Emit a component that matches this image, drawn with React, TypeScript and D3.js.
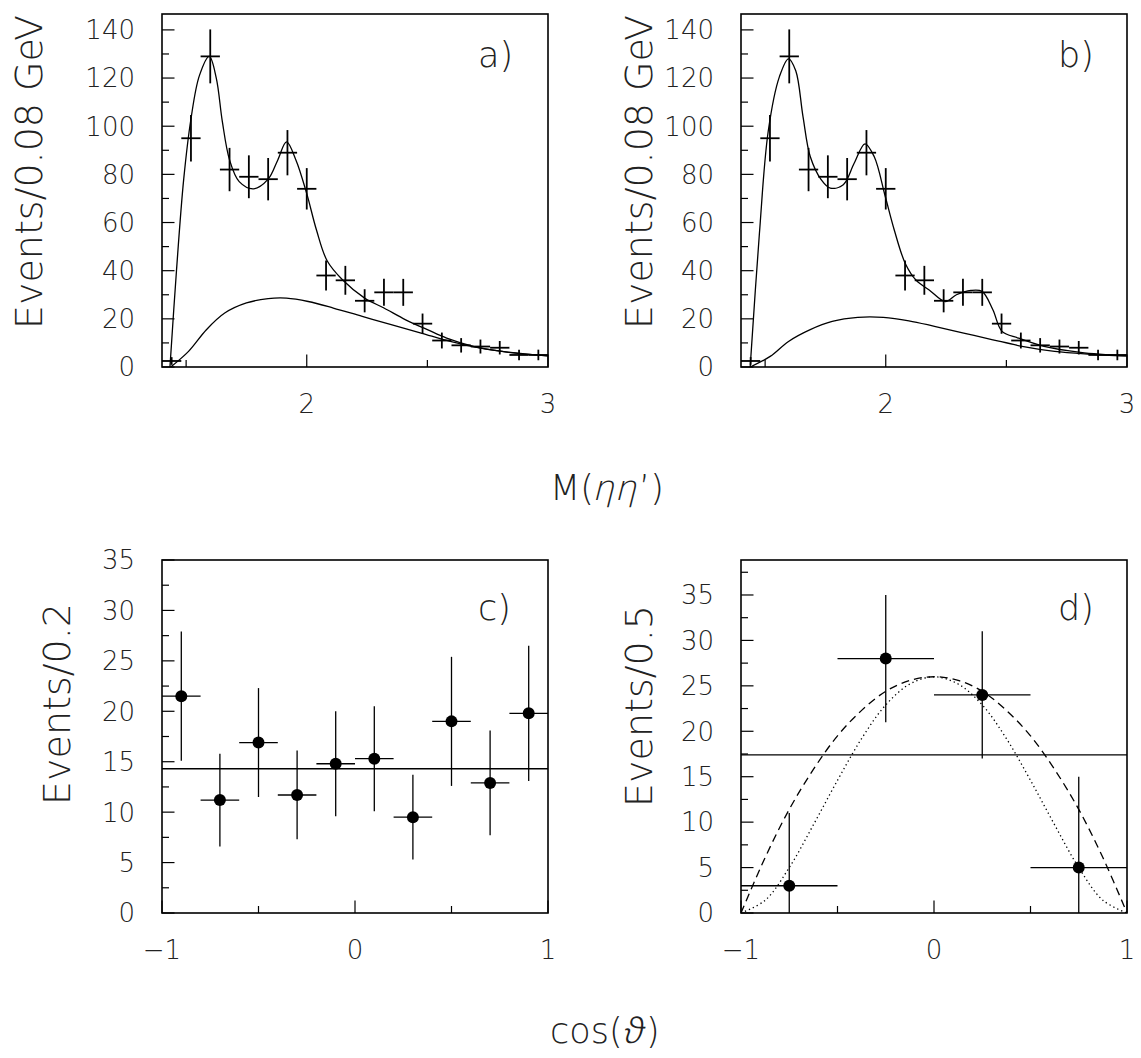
import React from "react";
import * as d3 from "d3";

type Pt = [number, number];

const W = 1141;
const H = 1058;
const FONT = "'DejaVu Sans', sans-serif";

// M(eta eta') spectrum, 0.08 GeV bins (same data in a and b)
const massBins = [1.44, 1.52, 1.6, 1.68, 1.76, 1.84, 1.92, 2.0, 2.08, 2.16, 2.24, 2.32, 2.4, 2.48, 2.56, 2.64, 2.72, 2.8, 2.88, 2.96];
const massCounts = [2.5, 95, 129, 82, 79, 78, 89, 74, 38, 36, 27.5, 31, 31, 18, 11, 9, 8.5, 8, 5, 5];
const massErrors = [1.6, 9.7, 11.2, 9, 8.9, 8.8, 9.4, 8.6, 6.2, 6, 4.8, 5.6, 5.6, 4.2, 3.3, 3, 2.9, 2.8, 2.2, 2.2];

// fit curves
const fitTotalA: Pt[] = [
  [1.433, 0], [1.46, 40], [1.49, 78], [1.52, 103], [1.555, 121], [1.596, 129], [1.625, 120],
  [1.65, 102], [1.68, 86], [1.72, 77], [1.78, 74], [1.84, 78], [1.88, 86], [1.916, 93.5],
  [1.955, 86], [2.0, 72], [2.04, 57], [2.085, 44], [2.15, 36], [2.24, 28.6], [2.32, 24.5],
  [2.41, 19.6], [2.5, 15.5], [2.58, 12], [2.69, 8.6], [2.81, 6.5], [3.0, 4.6],
];
const fitBackA: Pt[] = [
  [1.436, 0], [1.51, 6.5], [1.584, 15.5], [1.66, 22.4], [1.75, 26.6], [1.84, 28.4], [1.916, 28.6],
  [2.006, 27.2], [2.11, 24.5], [2.23, 21], [2.35, 17.6], [2.474, 14.1], [2.595, 10.6],
  [2.715, 7.9], [2.836, 6.1], [3.0, 4.6],
];
const fitTotalB: Pt[] = [
  [1.438, 0], [1.476, 55], [1.513, 98], [1.559, 120.5], [1.597, 128], [1.627, 123], [1.657, 104],
  [1.687, 87.4], [1.733, 77.7], [1.77, 74.3], [1.824, 75.7], [1.869, 84.6], [1.914, 92.7],
  [1.952, 87.4], [1.998, 70.8], [2.035, 57], [2.081, 43], [2.126, 36], [2.18, 32], [2.247, 27.2],
  [2.293, 30], [2.353, 31.8], [2.399, 31.4], [2.444, 23.8], [2.482, 14.8], [2.55, 12],
  [2.656, 8.6], [2.807, 6.1], [3.0, 4.6],
];
const fitBackB: Pt[] = [
  [1.438, 0], [1.521, 4.4], [1.597, 10.6], [1.687, 15.5], [1.778, 18.9], [1.884, 20.6], [1.99, 20.6],
  [2.096, 19.2], [2.202, 16.9], [2.323, 14.1], [2.444, 11.3], [2.565, 8.6], [2.7, 6.5],
  [2.837, 5.4], [3.0, 4.6],
];

// cos(theta) distributions
const cosBinsC = [-0.9, -0.7, -0.5, -0.3, -0.1, 0.1, 0.3, 0.5, 0.7, 0.9];
const cosCountsC = [21.5, 11.2, 16.9, 11.7, 14.8, 15.3, 9.5, 19.0, 12.9, 19.8];
const cosErrorsC = [6.4, 4.6, 5.4, 4.4, 5.2, 5.2, 4.2, 6.4, 5.2, 6.7];
const flatC = 14.3;

const cosBinsD = [-0.75, -0.25, 0.25, 0.75];
const cosCountsD = [3, 28, 24, 5];
const cosErrorsD = [8, 7, 7, 10];
const flatD = 17.4;
const dashedD: Pt[] = [
  [-1, 0], [-0.875, 6.1], [-0.75, 11.4], [-0.625, 15.8], [-0.5, 19.5], [-0.375, 22.3], [-0.25, 24.4],
  [-0.125, 25.6], [0, 26], [0.125, 25.6], [0.25, 24.4], [0.375, 22.3], [0.5, 19.5], [0.625, 15.8],
  [0.75, 11.4], [0.875, 6.1], [1, 0],
];
const dottedD: Pt[] = [
  [-1, 0], [-0.875, 1.4], [-0.75, 5], [-0.625, 9.7], [-0.5, 14.6], [-0.375, 19.2], [-0.25, 22.9],
  [-0.125, 25.2], [0, 26], [0.125, 25.2], [0.25, 22.9], [0.375, 19.2], [0.5, 14.6], [0.625, 9.7],
  [0.75, 5], [0.875, 1.4], [1, 0],
];

// tick values
const massXLabels = [2, 3];
const massXMinor = [1.5, 2.5];
const massYMajor = [0, 20, 40, 60, 80, 100, 120, 140];
const massYMinor = [10, 30, 50, 70, 90, 110, 130];
const cosXLabels = [-1, 0, 1];
const cosXMinor = [-0.5, 0.5];
const cosYMajor = [0, 5, 10, 15, 20, 25, 30, 35];
const cosYMinor = [2.5, 7.5, 12.5, 17.5, 22.5, 27.5, 32.5];
const cosYMinorD = [2.5, 7.5, 12.5, 17.5, 22.5, 27.5, 32.5, 37.5];

type Scale = d3.ScaleLinear<number, number>;

interface PanelProps {
  id: string;
  left: number;
  top: number;
  width: number;
  height: number;
  xDomain: [number, number];
  yDomain: [number, number];
  xLabels: number[];
  xMinor: number[];
  yMajor: number[];
  yMinor: number[];
  tag: string;
  tagX: number;
  tagY: number;
  title: string;
  titleX: number;
  titleTop: number;
  draw: (x: Scale, y: Scale) => React.ReactNode;
}

const Panel = (p: PanelProps) => {
  const x = d3.scaleLinear().domain(p.xDomain).range([p.left, p.left + p.width]);
  const y = d3.scaleLinear().domain(p.yDomain).range([p.top + p.height, p.top]);
  const bottom = p.top + p.height;
  const fmt = d3.format("d");
  return (
    <g>
      <defs>
        <clipPath id={p.id}>
          <rect x={p.left} y={p.top} width={p.width} height={p.height} />
        </clipPath>
      </defs>
      <g clipPath={`url(#${p.id})`}>{p.draw(x, y)}</g>
      <rect x={p.left} y={p.top} width={p.width} height={p.height} fill="none" stroke="#000" strokeWidth={1.6} />
      {p.yMajor.map((v) => (
        <g key={"ym" + v}>
          <line x1={p.left} x2={p.left + 12.5} y1={y(v)} y2={y(v)} stroke="#000" strokeWidth={1.2} />
          <text x={p.left - 27} y={y(v)} dy="0.36em" textAnchor="end" fontSize={26}>
            {fmt(v)}
          </text>
        </g>
      ))}
      {p.yMinor.map((v) => (
        <line key={"yn" + v} x1={p.left} x2={p.left + 7} y1={y(v)} y2={y(v)} stroke="#000" strokeWidth={1.2} />
      ))}
      {p.xLabels.map((v) => (
        <g key={"xm" + v}>
          <line x1={x(v)} x2={x(v)} y1={bottom} y2={bottom - 12.5} stroke="#000" strokeWidth={1.2} />
          <text x={x(v)} y={bottom + 46} textAnchor="middle" fontSize={26}>
            {fmt(v)}
          </text>
        </g>
      ))}
      {p.xMinor.map((v) => (
        <line key={"xn" + v} x1={x(v)} x2={x(v)} y1={bottom} y2={bottom - 7} stroke="#000" strokeWidth={1.2} />
      ))}
      <text x={p.tagX} y={p.tagY} fontSize={35}>
        {p.tag}
      </text>
      <text transform={`translate(${p.titleX},${p.titleTop}) rotate(-90)`} textAnchor="end" fontSize={38}>
        {p.title}
      </text>
    </g>
  );
};

const crosses = (x: Scale, y: Scale, bins: number[], counts: number[], errs: number[], half: number, w: number) =>
  bins.map((b, i) => (
    <g key={"c" + i} stroke="#000" strokeWidth={w}>
      <line x1={x(b - half)} x2={x(b + half)} y1={y(counts[i])} y2={y(counts[i])} />
      <line x1={x(b)} x2={x(b)} y1={y(counts[i] - errs[i])} y2={y(counts[i] + errs[i])} />
    </g>
  ));

const curve = (x: Scale, y: Scale, pts: Pt[], dash?: string) => {
  const gen = d3
    .line<Pt>()
    .x((d) => x(d[0]))
    .y((d) => y(d[1]))
    .curve(d3.curveCatmullRom.alpha(0.5));
  return <path d={gen(pts) || ""} fill="none" stroke="#000" strokeWidth={1.3} strokeDasharray={dash} />;
};

const flat = (x: Scale, y: Scale, v: number) => (
  <line x1={x.range()[0]} x2={x.range()[1]} y1={y(v)} y2={y(v)} stroke="#000" strokeWidth={1.3} />
);

const dots = (x: Scale, y: Scale, bins: number[], counts: number[]) =>
  bins.map((b, i) => <circle key={"d" + i} cx={x(b)} cy={y(counts[i])} r={6} fill="#000" />);

export default function App() {
  return (
    <svg
      width={W}
      height={H}
      viewBox={`0 0 ${W} ${H}`}
      style={{ position: "absolute", left: 0, top: 0, background: "#fff" }}
      fontFamily={FONT}
      fontWeight={200}
      fill="#222"
    >
      <Panel
        id="pa"
        left={162}
        top={14}
        width={386}
        height={353}
        xDomain={[1.4, 3.0]}
        yDomain={[0, 146.6]}
        xLabels={massXLabels}
        xMinor={massXMinor}
        yMajor={massYMajor}
        yMinor={massYMinor}
        tag="a)"
        tagX={478}
        tagY={67}
        title="Events/0.08 GeV"
        titleX={42}
        titleTop={15}
        draw={(x, y) => (
          <g>
            {curve(x, y, fitTotalA)}
            {curve(x, y, fitBackA)}
            {crosses(x, y, massBins, massCounts, massErrors, 0.04, 1.8)}
          </g>
        )}
      />
      <Panel
        id="pb"
        left={741}
        top={14}
        width={386}
        height={353}
        xDomain={[1.4, 3.0]}
        yDomain={[0, 146.6]}
        xLabels={massXLabels}
        xMinor={massXMinor}
        yMajor={massYMajor}
        yMinor={massYMinor}
        tag="b)"
        tagX={1058}
        tagY={67}
        title="Events/0.08 GeV"
        titleX={652}
        titleTop={15}
        draw={(x, y) => (
          <g>
            {curve(x, y, fitTotalB)}
            {curve(x, y, fitBackB)}
            {crosses(x, y, massBins, massCounts, massErrors, 0.04, 1.8)}
          </g>
        )}
      />
      <Panel
        id="pc"
        left={162}
        top={560}
        width={386}
        height={353}
        xDomain={[-1, 1]}
        yDomain={[0, 35]}
        xLabels={cosXLabels}
        xMinor={cosXMinor}
        yMajor={cosYMajor}
        yMinor={cosYMinor}
        tag="c)"
        tagX={478}
        tagY={620}
        title="Events/0.2"
        titleX={70}
        titleTop={603}
        draw={(x, y) => (
          <g>
            {flat(x, y, flatC)}
            {crosses(x, y, cosBinsC, cosCountsC, cosErrorsC, 0.1, 1.3)}
            {dots(x, y, cosBinsC, cosCountsC)}
          </g>
        )}
      />
      <Panel
        id="pd"
        left={741}
        top={560}
        width={386}
        height={353}
        xDomain={[-1, 1]}
        yDomain={[0, 38.85]}
        xLabels={cosXLabels}
        xMinor={cosXMinor}
        yMajor={cosYMajor}
        yMinor={cosYMinorD}
        tag="d)"
        tagX={1058}
        tagY={620}
        title="Events/0.5"
        titleX={652}
        titleTop={605}
        draw={(x, y) => (
          <g>
            {flat(x, y, flatD)}
            {curve(x, y, dashedD, "8 5")}
            {curve(x, y, dottedD, "1.3 3")}
            {crosses(x, y, cosBinsD, cosCountsD, cosErrorsD, 0.25, 1.3)}
            {dots(x, y, cosBinsD, cosCountsD)}
          </g>
        )}
      />
      {/* x titles: Greek letters slanted by hand, the light face has no italic */}
      <g fontSize={35}>
        <text x={550} y={500}>M(</text>
        <text transform="translate(592,500) skewX(-14)">ηη</text>
        <text x={639} y={500}>’)</text>
        <text x={550} y={1043}>cos(</text>
        <text transform="translate(622,1043) skewX(-12)" fontFamily="'Noto Sans', sans-serif" fontWeight={300}>
          ϑ
        </text>
        <text x={646} y={1043}>)</text>
      </g>
    </svg>
  );
}
